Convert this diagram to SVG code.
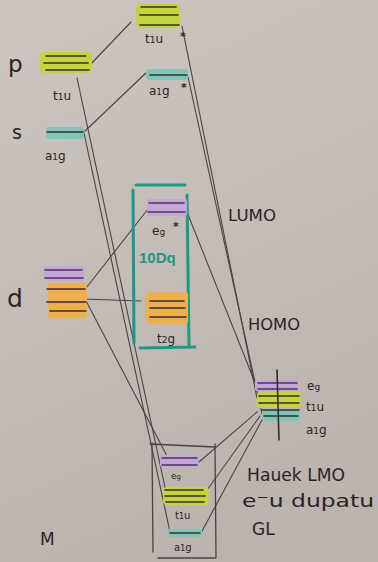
<svg xmlns="http://www.w3.org/2000/svg" width="378" height="562" viewBox="0 0 378 562">
  <defs>
    <linearGradient id="paper" x1="0" y1="0" x2="0.3" y2="1">
      <stop offset="0" stop-color="#cdc5bf"/>
      <stop offset="1" stop-color="#bcb4af"/>
    </linearGradient>
    <style>
      .ink { fill: #2b2327; font-family: "DejaVu Sans", "Liberation Sans", sans-serif; }
      .lbl { font-size: 12px; }
      .big { font-size: 23px; }
      .word { font-size: 15px; }
      .lvl { stroke: #3a2b33; stroke-width: 1.6; stroke-linecap: round; }
      .lvl-p { stroke: #4b3564; stroke-width: 1.6; stroke-linecap: round; }
      .lime { fill: #c3d53c; }
      .teal { fill: #7fc6b6; }
      .lilac { fill: #c6a6d8; }
      .orange { fill: #eeb04c; }
      .conn { stroke: #4a4247; stroke-width: 1.1; fill: none; stroke-linecap: round; }
      .frame { stroke: #1f9886; stroke-width: 3; stroke-linecap: round; }
      .box { stroke: #4a4247; stroke-width: 1.3; stroke-linecap: round; }
      .star { fill: #2b2327; font-family: "DejaVu Sans", sans-serif; font-size: 11px; font-weight: bold; }
    </style>
  </defs>

  <rect width="378" height="562" fill="url(#paper)"/>

  <!-- connectors -->
  <g id="connectors">
    <line class="conn" x1="89" y1="66" x2="131" y2="22"/>
    <line class="conn" x1="85" y1="131" x2="147" y2="72"/>
    <line class="conn" x1="77" y1="78" x2="166" y2="492"/>
    <line class="conn" x1="84" y1="133" x2="170" y2="532"/>
    <line class="conn" x1="83" y1="292" x2="148" y2="209"/>
    <line class="conn" x1="83" y1="299" x2="141" y2="301"/>
    <line class="conn" x1="83" y1="295" x2="168" y2="458"/>
    <line class="conn" x1="182" y1="26" x2="257" y2="398"/>
    <line class="conn" x1="188" y1="77" x2="262" y2="414"/>
    <line class="conn" x1="187" y1="212" x2="256" y2="385"/>
    <line class="conn" x1="257" y1="412" x2="199" y2="462"/>
    <line class="conn" x1="260" y1="416" x2="205" y2="493"/>
    <line class="conn" x1="262" y1="420" x2="201" y2="533"/>
  </g>

  <!-- metal p -->
  <g id="metal-p">
    <text class="ink big" x="8" y="72">p</text>
    <rect class="lime" x="40" y="52" width="52" height="21" rx="4"/>
    <line class="lvl" x1="46" y1="56" x2="86" y2="56"/>
    <line class="lvl" x1="44" y1="63" x2="88" y2="63"/>
    <line class="lvl" x1="46" y1="70" x2="89" y2="70"/>
    <text class="ink lbl" x="53" y="100" font-size="13">t<tspan font-size="9">1</tspan>u</text>
  </g>

  <!-- metal s -->
  <g id="metal-s">
    <text class="ink" x="12" y="139" font-size="19">s</text>
    <rect class="teal" x="46" y="127" width="38" height="12" rx="3"/>
    <line class="lvl" x1="47" y1="132" x2="83" y2="132"/>
    <text class="ink lbl" x="45" y="160" font-size="13">a<tspan font-size="9">1</tspan>g</text>
  </g>

  <!-- metal d -->
  <g id="metal-d">
    <text class="ink" x="7" y="307" font-size="25">d</text>
    <rect class="lilac" x="44" y="266" width="40" height="15" rx="2"/>
    <line class="lvl-p" x1="45" y1="270" x2="82" y2="270"/>
    <line class="lvl-p" x1="45" y1="278" x2="83" y2="278"/>
    <rect class="orange" x="48" y="283" width="39" height="35" rx="2"/>
    <line class="lvl" x1="47" y1="289" x2="85" y2="289"/>
    <line class="lvl" x1="47" y1="302" x2="86" y2="302"/>
    <line class="lvl" x1="50" y1="311" x2="86" y2="311"/>
  </g>

  <!-- antibonding t1u* -->
  <g id="mo-t1u-star">
    <rect class="lime" x="136" y="4" width="44" height="24" rx="4"/>
    <line class="lvl" x1="141" y1="7" x2="176" y2="7"/>
    <line class="lvl" x1="140" y1="15" x2="178" y2="15"/>
    <line class="lvl" x1="140" y1="25" x2="179" y2="25"/>
    <text class="ink lbl" x="145" y="43" font-size="13">t<tspan font-size="9">1</tspan>u</text>
    <text class="star" x="180" y="40">*</text>
  </g>

  <!-- antibonding a1g* -->
  <g id="mo-a1g-star">
    <rect class="teal" x="146" y="69" width="42" height="11" rx="3"/>
    <line class="lvl" x1="150" y1="75" x2="187" y2="75"/>
    <text class="ink lbl" x="149" y="95" font-size="13">a<tspan font-size="9">1</tspan>g</text>
    <text class="star" x="181" y="91">*</text>
  </g>

  <!-- ligand field splitting frame -->
  <g id="splitting">
    <line class="frame" x1="136" y1="185" x2="185" y2="185"/>
    <line class="frame" x1="133" y1="190" x2="134" y2="343"/>
    <line class="frame" x1="187" y1="195" x2="189" y2="345"/>
    <line class="frame" x1="140" y1="348" x2="195" y2="347"/>
    <rect class="lilac" x="147" y="199" width="40" height="17" rx="2"/>
    <line class="lvl-p" x1="149" y1="203" x2="184" y2="203"/>
    <line class="lvl-p" x1="148" y1="212" x2="185" y2="212"/>
    <text class="ink lbl" x="152" y="235" font-size="13">e<tspan font-size="9">g</tspan></text>
    <text class="star" x="173" y="230">*</text>
    <text x="139" y="263" font-family="Liberation Sans, sans-serif" font-size="15" font-weight="bold" fill="#1f9886">10Dq</text>
    <rect class="orange" x="146" y="292" width="42" height="32" rx="3"/>
    <line class="lvl" x1="150" y1="301" x2="184" y2="301"/>
    <line class="lvl" x1="150" y1="308" x2="185" y2="308"/>
    <line class="lvl" x1="150" y1="317" x2="186" y2="317"/>
    <text class="ink lbl" x="157" y="343">t<tspan font-size="9">2</tspan>g</text>
  </g>

  <text class="ink" x="228" y="221" font-size="15" textLength="48" lengthAdjust="spacingAndGlyphs">LUMO</text>
  <text class="ink" x="248" y="330" font-size="15" textLength="52" lengthAdjust="spacingAndGlyphs">HOMO</text>

  <!-- ligand group orbitals -->
  <g id="ligand-orbitals">
    <rect class="lilac" x="255" y="380" width="43" height="11" rx="2"/>
    <rect class="lime" x="257" y="392" width="44" height="16" rx="3"/>
    <rect class="teal" x="262" y="410" width="38" height="11" rx="3"/>
    <line class="lvl-p" x1="258" y1="383" x2="297" y2="383"/>
    <line class="lvl-p" x1="258" y1="389" x2="297" y2="389"/>
    <line class="lvl" x1="259" y1="396" x2="299" y2="396"/>
    <line class="lvl" x1="259" y1="403" x2="299" y2="403"/>
    <line class="lvl" x1="262" y1="410" x2="299" y2="410"/>
    <line class="lvl" x1="264" y1="416" x2="298" y2="416"/>
    <line class="lvl" x1="277" y1="370" x2="279" y2="440"/>
    <text class="ink lbl" x="307" y="390" font-size="13">e<tspan font-size="9">g</tspan></text>
    <text class="ink lbl" x="306" y="411" font-size="13">t<tspan font-size="9">1</tspan>u</text>
    <text class="ink lbl" x="306" y="434" font-size="13">a<tspan font-size="9">1</tspan>g</text>
  </g>

  <!-- bonding orbitals -->
  <g id="bonding">
    <line class="box" x1="150" y1="444" x2="215" y2="447"/>
    <line class="box" x1="152" y1="443" x2="153" y2="552"/>
    <line class="box" x1="215" y1="444" x2="216" y2="557"/>
    <line class="box" x1="158" y1="558" x2="216" y2="558"/>
    <rect class="lilac" x="160" y="455" width="38" height="12" rx="2"/>
    <line class="lvl-p" x1="162" y1="458" x2="197" y2="458"/>
    <line class="lvl-p" x1="162" y1="465" x2="197" y2="465"/>
    <text class="ink" x="171" y="479" font-size="9" font-family="DejaVu Sans, sans-serif">e<tspan font-size="7">g</tspan></text>
    <rect class="lime" x="163" y="487" width="46" height="18" rx="4"/>
    <line class="lvl" x1="165" y1="490" x2="203" y2="490"/>
    <line class="lvl" x1="165" y1="496" x2="205" y2="496"/>
    <line class="lvl" x1="166" y1="502" x2="204" y2="502"/>
    <text class="ink" x="175" y="519" font-size="10" font-family="DejaVu Sans, sans-serif">t<tspan font-size="8">1</tspan>u</text>
    <rect class="teal" x="168" y="529" width="34" height="8" rx="2"/>
    <line class="lvl" x1="170" y1="533" x2="200" y2="533"/>
    <text class="ink" x="174" y="551" font-size="10" font-family="DejaVu Sans, sans-serif">a<tspan font-size="8">1</tspan>g</text>
  </g>

  <text class="ink" x="247" y="481" font-size="17" textLength="98" lengthAdjust="spacingAndGlyphs">Hauek LMO</text>
  <text class="ink" x="242" y="507" font-size="18" textLength="132" lengthAdjust="spacingAndGlyphs">e⁻u dupatu</text>
  <text class="ink" x="252" y="535" font-size="17">GL</text>
  <text class="ink" x="40" y="545" font-size="17" font-family="DejaVu Sans, sans-serif">M</text>
</svg>
